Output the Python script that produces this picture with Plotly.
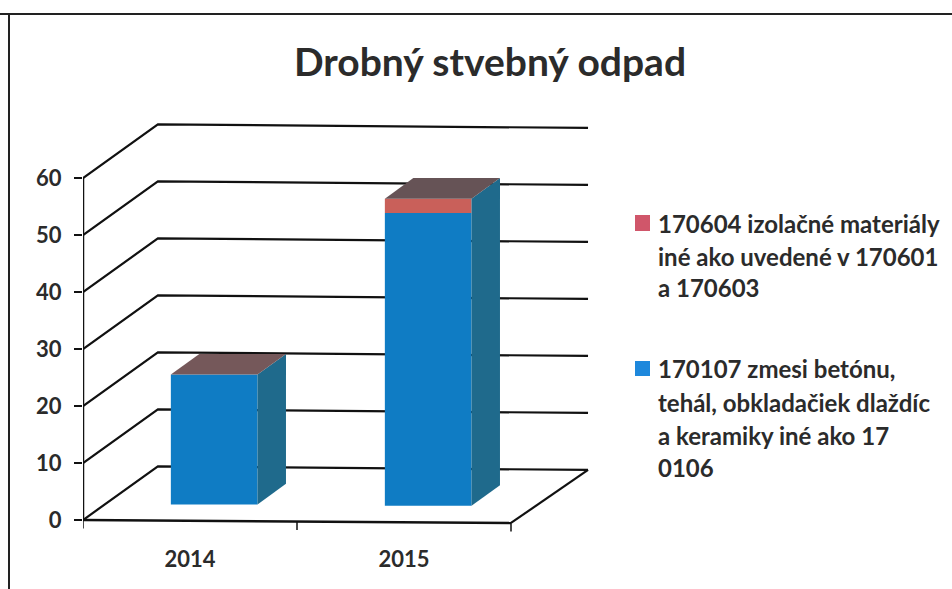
import plotly.graph_objects as go

title_text = "Drobný stvebný odpad"
years = ["2014", "2015"]
blue_values = [22.8, 51.4]
red_values = [0.0, 2.5]
y_ticks = [0, 10, 20, 30, 40, 50, 60]
red_name_lines = ["170604 izolačné materiály", "iné ako uvedené v 170601", "a 170603"]
blue_name_lines = ["170107 zmesi betónu,", "tehál, obkladačiek dlaždíc", "a keramiky iné ako 17", "0106"]

W, H = 952, 589
FONT = "Lato"
TEXT = "#2b2b2b"
LINE = "#111111"
C_BLUE, C_RED = "#0f7cc4", "#c9605a"
C_SIDE, C_TOP = "#1f6a8c", "#665356"
C_TOP_2014 = "#75585a"
SW_BLUE, SW_RED = "#1e88dc", "#d0566a"

# axis frame, in pixels of the page
PX_L, PX_R, PX_B, PX_T = 83, 618, 537.1, 121
X_RANGE = [0.5, 3.0]
Y_RANGE = [-3, 70]
WALL_DX, WALL_DY = 0.35, 9.4      # depth of the floor, data units
BAR_W = 0.405
BAR_SHIFT_X, BAR_SHIFT_Y = 0.113, 2.9   # bars stand away from the front edge
BAR_DX, BAR_DY = 0.133, 3.6       # depth of a bar
TILT = -0.26                      # the scanned page leans slightly, per x unit
RIGHT_END = 2.86


def tilt(x):
    return TILT * (x - 0.5)


fig = go.Figure()
xs = [i + 1 + BAR_SHIFT_X for i in range(len(years))]
bases = [BAR_SHIFT_Y + tilt(x) for x in xs]

fig.add_trace(go.Bar(name=" ".join(blue_name_lines), x=xs, y=blue_values, base=bases,
                     width=BAR_W, marker=dict(color=C_BLUE, line_width=0)))
fig.add_trace(go.Bar(name=" ".join(red_name_lines), x=xs, y=red_values,
                     base=[b + v for b, v in zip(bases, blue_values)],
                     width=BAR_W, marker=dict(color=C_RED, line_width=0)))

for i, x in enumerate(xs):
    xl, xr = x - BAR_W / 2, x + BAR_W / 2
    base = bases[i]
    top = base + blue_values[i] + red_values[i]
    fig.add_trace(go.Scatter(
        x=[xr, xr + BAR_DX, xr + BAR_DX, xr, xr],
        y=[base, base + BAR_DY, top + BAR_DY, top, base],
        mode="lines", fill="toself", fillcolor=C_SIDE, line=dict(width=0), hoverinfo="skip"))
    fig.add_trace(go.Scatter(
        x=[xl, xr, xr + BAR_DX, xl + BAR_DX, xl],
        y=[top, top, top + BAR_DY, top + BAR_DY, top],
        mode="lines", fill="toself", fillcolor=C_TOP_2014 if i == 0 else C_TOP,
        line=dict(width=0), hoverinfo="skip"))

# wall and floor lines go behind the bars
shapes = []
for v in y_ticks:
    back_x = 0.5 + WALL_DX
    path = (f"M 0.5 {v} L {back_x} {v + WALL_DY} "
            f"L {RIGHT_END} {v + WALL_DY + tilt(RIGHT_END)}")
    shapes.append(dict(type="path", path=path, xref="x", yref="y", layer="below",
                       line=dict(color=LINE, width=2.2)))
floor_end = 2.5
shapes.append(dict(type="line", xref="x", yref="y", layer="below",
                   x0=floor_end, y0=tilt(floor_end),
                   x1=RIGHT_END, y1=WALL_DY + tilt(RIGHT_END),
                   line=dict(color=LINE, width=2.2)))
# swatches and scan frame on the page
for (y0, y1, c) in [(215, 231, SW_RED), (361, 376, SW_BLUE)]:
    shapes.append(dict(type="rect", xref="paper", yref="paper",
                       x0=635 / W, x1=650 / W, y0=1 - y1 / H, y1=1 - y0 / H,
                       fillcolor=c, line_width=0))
shapes.append(dict(type="line", xref="paper", yref="paper", x0=0, x1=1,
                   y0=1 - 14 / H, y1=1 - 14 / H, line=dict(color="#222222", width=2)))
shapes.append(dict(type="line", xref="paper", yref="paper", x0=9 / W, x1=9 / W,
                   y0=0, y1=1 - 14 / H, line=dict(color="#222222", width=2)))

# front axes
fig.add_trace(go.Scatter(x=[0.5, 0.5], y=[y_ticks[0], y_ticks[-1]], mode="lines",
                         line=dict(color=LINE, width=2.5), cliponaxis=False, hoverinfo="skip"))
edges = [0.5, 1.5, 2.5]
fig.add_trace(go.Scatter(x=[edges[0], edges[-1]], y=[tilt(edges[0]), tilt(edges[-1])], mode="lines",
                         line=dict(color=LINE, width=2.5), cliponaxis=False, hoverinfo="skip"))
tx, ty = [], []
for e in edges:
    tx += [e, e, None]
    ty += [tilt(e), tilt(e) - 1.5, None]
fig.add_trace(go.Scatter(x=tx, y=ty, mode="lines", line=dict(color=LINE, width=1.5),
                         cliponaxis=False, hoverinfo="skip"))

annotations = []
for lines, ys in [(red_name_lines, [223, 256, 288]), (blue_name_lines, [368, 402, 435, 467])]:
    for line, y in zip(lines, ys):
        annotations.append(dict(text=f"<b>{line}</b>", x=656 / W, y=1 - y / H, xref="paper", yref="paper",
                                xanchor="left", yanchor="middle", showarrow=False,
                                font=dict(family=FONT, size=24, color=TEXT)))

fig.update_layout(
    width=W, height=H, margin=dict(l=0, r=0, t=0, b=0),
    paper_bgcolor="white", plot_bgcolor="white",
    barmode="overlay", showlegend=False, shapes=shapes, annotations=annotations,
    title=dict(text=f"<b>{title_text}</b>", x=490 / W, y=1 - 62 / H, xanchor="center", yanchor="middle",
               font=dict(family=FONT, size=39, color=TEXT)),
    xaxis=dict(domain=[PX_L / W, PX_R / W], range=X_RANGE, showgrid=False, zeroline=False, showline=False,
               automargin=False,
               tickmode="array", tickvals=[1, 2], ticktext=years, ticks="outside",
               ticklen=2, tickcolor="rgba(0,0,0,0)",
               tickfont=dict(family=FONT, size=22, color=TEXT, weight=700)),
    yaxis=dict(domain=[1 - PX_B / H, 1 - PX_T / H], range=Y_RANGE, showgrid=False, zeroline=False, showline=False,
               automargin=False,
               tickmode="array", tickvals=y_ticks, ticks="outside", ticklen=8, tickwidth=2, tickcolor=LINE,
               ticklabelstandoff=8,
               tickfont=dict(family=FONT, size=22, color=TEXT, weight=700)),
    font=dict(family=FONT),
)
for tr in fig.data:
    tr.update(showlegend=False)

fig.write_html("out.html", post_script="document.body.style.margin='0';",
               config=dict(displayModeBar=False))
